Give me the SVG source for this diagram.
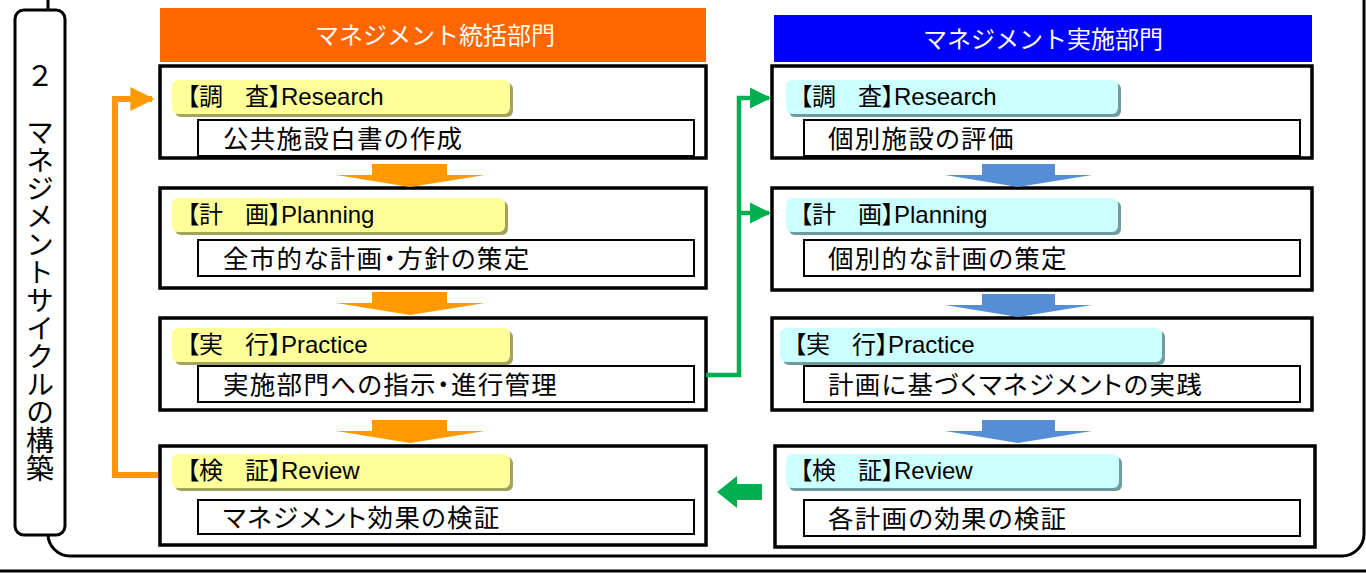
<svg xmlns="http://www.w3.org/2000/svg" width="1366" height="573" viewBox="0 0 1366 573">
<defs>
<style>
.frame{fill:#fff;stroke:#000;stroke-width:3}
.box{fill:#fff;stroke:#000;stroke-width:3.5}
.inner{fill:#fff;stroke:#000;stroke-width:2}
.ylab{fill:#FFFF99}
.yshd{fill:#A3A35C}
.clab{fill:#CCFFFF}
.cshd{fill:#6E9C9C}
.jp{font-family:"Noto Sans CJK JP","Liberation Sans",sans-serif;fill:#000}
.lab{font-size:24px;font-feature-settings:"palt"}
.lat{font-family:"Liberation Sans",Arial,sans-serif}
.txt{font-size:25.5px;letter-spacing:1.3px;font-feature-settings:"palt"}
.hdr{font-size:24px;fill:#fff;text-anchor:middle}
.oarr{fill:#FF9900}
.barr{fill:#558ED5}
</style>
<marker id="og" viewBox="0 0 10 10" refX="9" refY="5" markerWidth="4" markerHeight="4" orient="auto" markerUnits="strokeWidth"><path d="M0,0 L10,5 L0,10 z" fill="#FF9900"/></marker>
<marker id="gr" viewBox="0 0 10 10" refX="9" refY="5" markerWidth="4.8" markerHeight="4.8" orient="auto" markerUnits="strokeWidth"><path d="M0,0 L10,5 L0,10 z" fill="#00B050"/></marker>
</defs>
<rect width="1366" height="573" fill="#fff"/>
<g id="frame">
<rect class="frame" x="48" y="-25" width="1316" height="581" rx="22"/>
<line x1="0" y1="571" x2="1366" y2="571" stroke="#000" stroke-width="3"/>
</g>
<g id="side-label">
<rect x="15" y="10" width="50" height="525" rx="9" fill="#fff" stroke="#000" stroke-width="3"/>
<text class="jp" x="40" y="62" font-size="28" style="writing-mode:vertical-rl">２　マネジメントサイクルの構築</text>
</g>
<g id="hdr-left">
<rect x="160" y="8" width="546" height="54" fill="#FF6600"/>
<text class="jp hdr" x="435" y="44">マネジメント統括部門</text>
</g>
<g id="hdr-right">
<rect x="774" y="15" width="538" height="47" fill="#0000FF"/>
<text class="jp hdr" x="1043" y="48">マネジメント実施部門</text>
</g>
<g id="L1">
<rect class="box" x="160" y="66" width="546" height="92"/>
<rect class="yshd" x="175" y="83" width="338" height="34" rx="6"/>
<rect class="ylab" x="172" y="80" width="338" height="34" rx="6"/>
<text class="jp lab" y="105"><tspan x="187">【調</tspan><tspan x="245">査】</tspan><tspan class="lat">Research</tspan></text>
<rect class="inner" x="198" y="120" width="496" height="36"/>
<text class="jp txt" x="223" y="148">公共施設白書の作成</text>
</g>
<g id="L2">
<rect class="box" x="160" y="188" width="546" height="100"/>
<rect class="yshd" x="175" y="201" width="333" height="34" rx="6"/>
<rect class="ylab" x="172" y="198" width="333" height="34" rx="6"/>
<text class="jp lab" y="223"><tspan x="187">【計</tspan><tspan x="245">画】</tspan><tspan class="lat">Planning</tspan></text>
<rect class="inner" x="198" y="240" width="496" height="36"/>
<text class="jp txt" x="223" y="268">全市的な計画・方針の策定</text>
</g>
<g id="L3">
<rect class="box" x="160" y="318" width="546" height="92"/>
<rect class="yshd" x="175" y="331" width="338" height="34" rx="6"/>
<rect class="ylab" x="172" y="328" width="338" height="34" rx="6"/>
<text class="jp lab" y="353"><tspan x="187">【実</tspan><tspan x="245">行】</tspan><tspan class="lat">Practice</tspan></text>
<rect class="inner" x="198" y="366" width="496" height="36"/>
<text class="jp txt" x="223" y="394">実施部門への指示・進行管理</text>
</g>
<g id="L4">
<rect class="box" x="160" y="446" width="546" height="99"/>
<rect class="yshd" x="175" y="457" width="338" height="34" rx="6"/>
<rect class="ylab" x="172" y="454" width="338" height="34" rx="6"/>
<text class="jp lab" y="479"><tspan x="187">【検</tspan><tspan x="245">証】</tspan><tspan class="lat">Review</tspan></text>
<rect class="inner" x="198" y="500" width="496" height="34"/>
<text class="jp txt" x="223" y="527">マネジメント効果の検証</text>
</g>
<g id="R1">
<rect class="box" x="772" y="66" width="540" height="92"/>
<rect class="cshd" x="789" y="83" width="332" height="34" rx="6"/>
<rect class="clab" x="786" y="80" width="332" height="34" rx="6"/>
<text class="jp lab" y="105"><tspan x="800">【調</tspan><tspan x="858">査】</tspan><tspan class="lat">Research</tspan></text>
<rect class="inner" x="804" y="120" width="496" height="36"/>
<text class="jp txt" x="828" y="148">個別施設の評価</text>
</g>
<g id="R2">
<rect class="box" x="772" y="188" width="540" height="102"/>
<rect class="cshd" x="789" y="201" width="332" height="34" rx="6"/>
<rect class="clab" x="786" y="198" width="332" height="34" rx="6"/>
<text class="jp lab" y="223"><tspan x="800">【計</tspan><tspan x="858">画】</tspan><tspan class="lat">Planning</tspan></text>
<rect class="inner" x="804" y="240" width="496" height="36"/>
<text class="jp txt" x="828" y="268">個別的な計画の策定</text>
</g>
<g id="R3">
<rect class="box" x="772" y="318" width="540" height="92"/>
<rect class="cshd" x="783" y="331" width="382" height="34" rx="6"/>
<rect class="clab" x="780" y="328" width="382" height="34" rx="6"/>
<text class="jp lab" y="353"><tspan x="794">【実</tspan><tspan x="852">行】</tspan><tspan class="lat">Practice</tspan></text>
<rect class="inner" x="804" y="366" width="496" height="36"/>
<text class="jp txt" x="828" y="394">計画に基づくマネジメントの実践</text>
</g>
<g id="R4">
<rect class="box" x="775" y="446" width="540" height="101"/>
<rect class="cshd" x="789" y="457" width="333" height="34" rx="6"/>
<rect class="clab" x="786" y="454" width="333" height="34" rx="6"/>
<text class="jp lab" y="479"><tspan x="800">【検</tspan><tspan x="858">証】</tspan><tspan class="lat">Review</tspan></text>
<rect class="inner" x="804" y="500" width="496" height="36"/>
<text class="jp txt" x="828" y="528">各計画の効果の検証</text>
</g>
<g id="connectors">
<polygon class="oarr" points="372,164 447,164 447,175 485,175 410,187 336,175 372,175"/>
<polygon class="oarr" points="372,292 447,292 447,303 485,303 410,315 336,303 372,303"/>
<polygon class="oarr" points="372,420 447,420 447,431 485,431 410,443 336,431 372,431"/>
<polygon class="barr" points="982,164 1055,164 1055,175 1092,175 1018,187 945,175 982,175"/>
<polygon class="barr" points="982,294 1055,294 1055,305 1092,305 1018,317 945,305 982,305"/>
<polygon class="barr" points="982,420 1055,420 1055,431 1092,431 1018,443 945,431 982,431"/>
<polyline points="158,475 115,475 115,99 152,99" fill="none" stroke="#FF9900" stroke-width="6" marker-end="url(#og)"/>
<polyline points="706,375 739,375 739,98 769,98" fill="none" stroke="#00B050" stroke-width="4.5" marker-end="url(#gr)"/>
<polyline points="739,213 769,213" fill="none" stroke="#00B050" stroke-width="4.5" marker-end="url(#gr)"/>
<polygon points="762,484 762,500 737,500 737,508 717,492 737,476 737,484" fill="#00B050"/>
</g>
</svg>
